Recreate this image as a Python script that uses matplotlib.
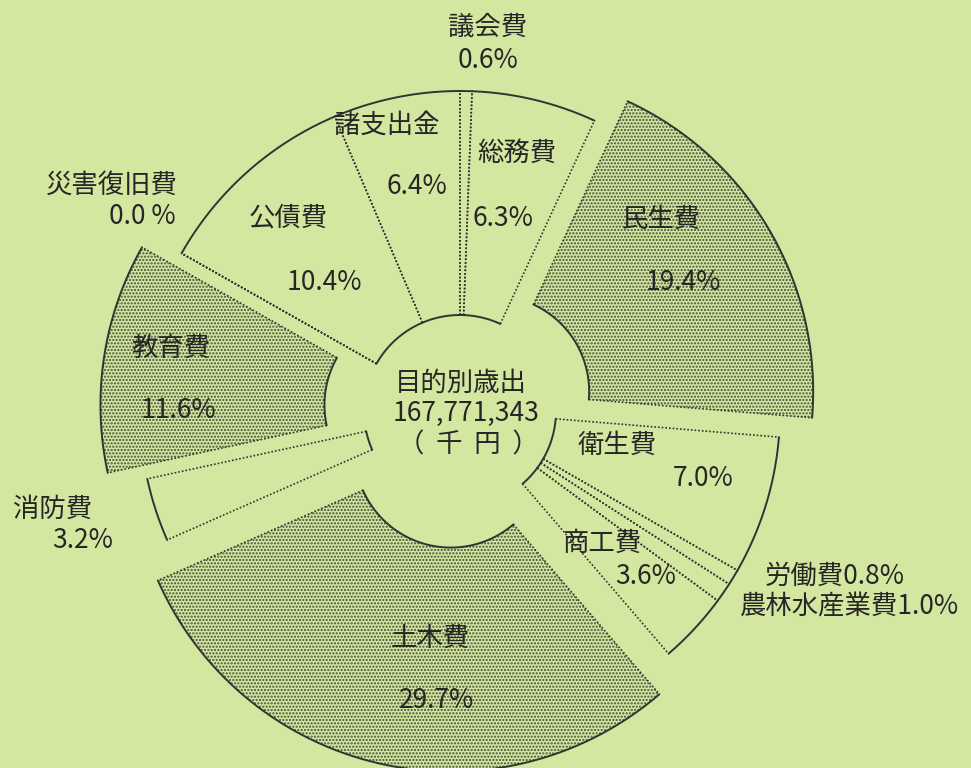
import numpy as np
import matplotlib
matplotlib.use("Agg")
import matplotlib.pyplot as plt

plt.rcParams['font.family'] = ['Noto Sans CJK JP', 'DejaVu Sans']

# ---- data ----
categories = ['議会費', '総務費', '民生費', '衛生費', '労働費', '農林水産業費', '商工費',
              '土木費', '消防費', '教育費', '災害復旧費', '公債費', '諸支出金']
shares = [0.6, 6.3, 19.4, 7.0, 0.8, 1.0, 3.6, 29.7, 3.2, 11.6, 0.0, 10.4, 6.4]
stippled = ['民生費', '土木費', '教育費']
center_title = '目的別歳出'
center_total = '167,771,343'
center_unit = '（  千  円  ）'

# ---- layout / style ----
W, H = 971, 768
CX, CY, R, RIN = 460, 411, 320, 96          # pixel geometry of the ring
pull = {'民生費': 0.12, '土木費': 0.13, '教育費': 0.125}
BG = '#d4e7a0'
LINE = '#333333'
DOT = '#434d39'
TXT = '#262626'
FS = 19

plt.rcParams['hatch.linewidth'] = 1.05
plt.rcParams['hatch.color'] = DOT

fig = plt.figure(figsize=(W / 100, H / 100), dpi=100, facecolor=BG)
ax = fig.add_axes([0, 0, 1, 1])
ax.set_facecolor(BG)

explode = [pull.get(c, 0.0) for c in categories]
wedges, _ = ax.pie(shares, startangle=90, counterclock=False, radius=1.0,
                   explode=explode, colors=[BG] * len(shares),
                   wedgeprops=dict(width=1 - RIN / R, linewidth=0))

for c, w in zip(categories, wedges):
    if c in stippled:
        w.set_hatch('.....')
        w.set_edgecolor(DOT)
        w.set_linewidth(0)

# outlines: solid arcs, dotted radial edges
for w in wedges:
    x0, y0 = w.center
    ro = w.r
    ri = w.r - w.width
    t1, t2 = w.theta1, w.theta2
    th = np.radians(np.linspace(t1, t2, 200))
    ax.plot(x0 + ro * np.cos(th), y0 + ro * np.sin(th), color=LINE, lw=1.4,
            solid_capstyle='round')
    ax.plot(x0 + ri * np.cos(th), y0 + ri * np.sin(th), color=LINE, lw=1.4,
            solid_capstyle='round')
    for t in (t1, t2):
        a = np.radians(t)
        ax.plot([x0 + ri * np.cos(a), x0 + ro * np.cos(a)],
                [y0 + ri * np.sin(a), y0 + ro * np.sin(a)],
                color=LINE, lw=1.2, linestyle=(0, (1, 1.2)))

ax.set_xlim(-CX / R, (W - CX) / R)
ax.set_ylim(-(H - CY) / R, CY / R)
ax.set_aspect('auto')
ax.axis('off')


def T(x, y, s, **kw):
    fig.text(x / W, 1 - y / H, s, ha='center', va='center', fontsize=FS,
             color=TXT, **kw)


def pct(v):
    return f'{v:.1f} %' if v == 0 else f'{v:.1f}%'


val = dict(zip(categories, shares))
# (name position, percent position) in pixels
label_pos = {
    '議会費': ((488, 27), (488, 60)),
    '総務費': ((517, 153), (503, 218)),
    '民生費': ((661, 219), (683, 283)),
    '衛生費': ((617, 445), (703, 478)),
    '商工費': ((602, 543), (646, 577)),
    '土木費': ((430, 638), (437, 700)),
    '消防費': ((53, 509), (83, 540)),
    '教育費': ((171, 348), (178, 410)),
    '災害復旧費': ((112, 185), (142, 217)),
    '公債費': ((288, 218), (324, 283)),
    '諸支出金': ((387, 125), (417, 187)),
}
for c, (p1, p2) in label_pos.items():
    T(*p1, c)
    T(*p2, pct(val[c]))

T(835, 576, '労働費' + pct(val['労働費']))
T(849, 607, '農林水産業費' + pct(val['農林水産業費']))

T(461, 383, center_title)
T(466, 413, center_total)
T(468, 445, center_unit)

fig.savefig('out.png', dpi=100, facecolor=BG)
